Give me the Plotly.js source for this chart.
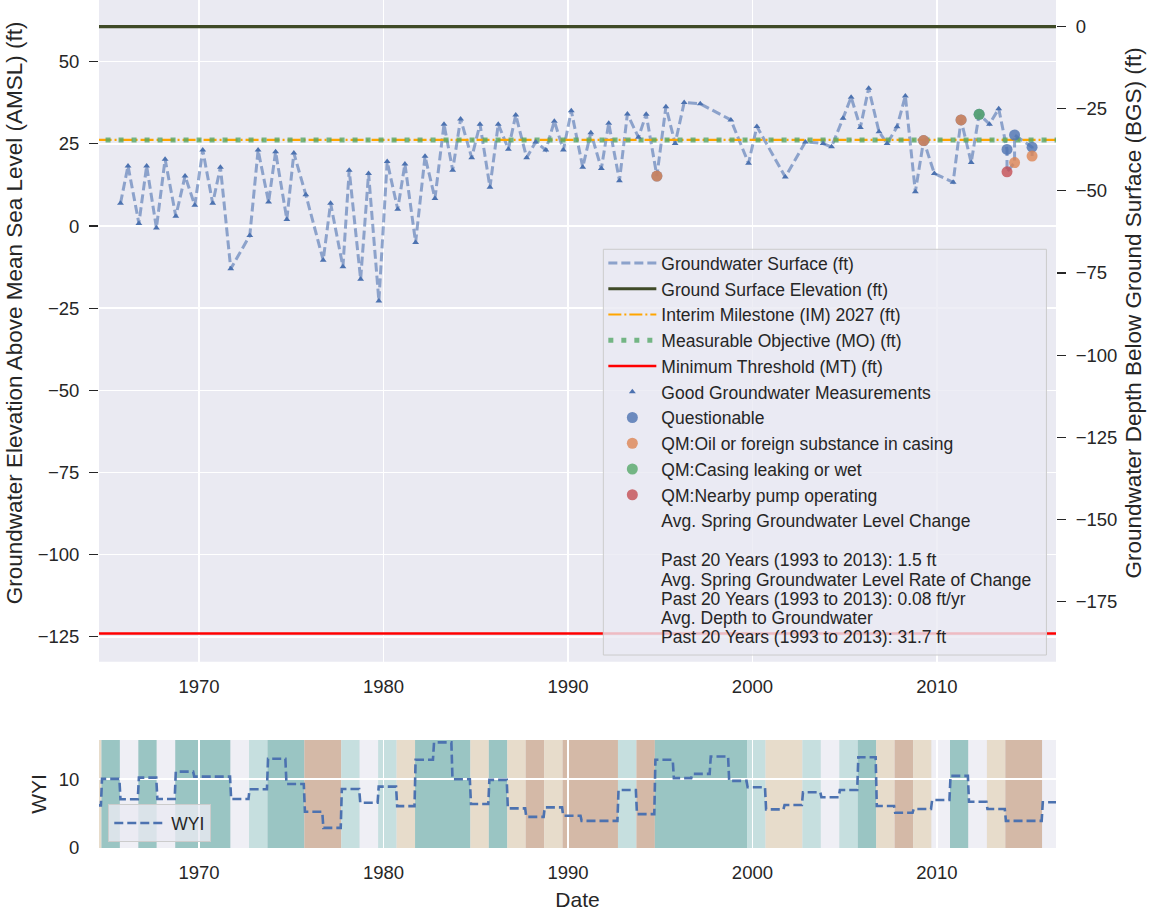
<!DOCTYPE html>
<html>
<head>
<meta charset="utf-8">
<script src="https://cdn.plot.ly/plotly-3.0.1.min.js"></script>
<style>
html,body{margin:0;padding:0;overflow:hidden;background:#fff;}
#chart{position:absolute;left:0;top:-36px;width:1159px;height:947px;}
</style>
</head>
<body>
<div id="chart"></div>
<script>
// ---------------- DATA ----------------
// Groundwater measurements (decimal year, elevation ft AMSL, quality flag)
// G = good, Q = questionable, QO = questionable + oil in casing, QG = questionable + casing leaking,
// O = oil in casing, R = nearby pump operating
const gwYear = [1965.74,1966.15,1966.74,1967.16,1967.69,1968.16,1968.74,1969.24,1969.77,1970.20,
  1970.74,1971.16,1971.72,1972.75,1973.20,1973.77,1974.15,1974.76,1975.14,1975.79,
  1976.73,1977.13,1977.80,1978.14,1978.76,1979.19,1979.75,1980.20,1980.77,1981.16,
  1981.74,1982.25,1982.79,1983.28,1983.75,1984.18,1984.78,1985.23,1985.77,1986.22,
  1986.77,1987.17,1987.76,1988.25,1988.80,1989.26,1989.75,1990.18,1990.80,1991.24,
  1991.81,1992.21,1992.79,1993.22,1993.82,1994.24,1994.82,1995.31,1995.81,1996.30,
  1997.17,1998.83,1999.79,2000.24,2001.78,2002.87,2003.83,2004.29,2004.91,2005.35,
  2005.85,2006.30,2006.86,2007.30,2007.84,2008.29,2008.83,2009.28,2009.86,2010.88,
  2011.31,2011.86,2012.29,2012.85,2013.35,2013.80,2013.80,2014.21,2014.21,2015.16,2015.16];
const gwLevel = [6.9,18.3,0.8,18.3,-0.6,20.3,3.0,15.2,6.3,23.1,
  6.9,17.9,-13.0,-2.9,23.1,7.3,22.6,2.0,22.2,9.5,
  -10.4,6.9,-12.4,17.0,-16.2,16.0,-22.8,19.6,5.1,18.9,
  -5.0,21.2,8.4,31.0,17.0,32.6,20.8,31.0,11.8,31.0,
  23.4,33.8,20.8,25.6,23.1,31.9,23.1,35.1,17.9,28.4,
  17.5,31.3,13.8,34.1,27.0,34.0,15.2,36.3,25.1,37.6,
  37.2,32.3,19.1,30.3,14.9,25.6,25.1,24.1,32.8,39.2,
  30.0,41.9,28.7,25.1,30.2,39.6,10.4,26.0,16.0,13.3,
  32.3,19.3,34.0,31.0,35.7,23.3,16.5,19.3,27.7,24.0,21.3];
const gwFlag = ['G','G','G','G','G','G','G','G','G','G',
  'G','G','G','G','G','G','G','G','G','G',
  'G','G','G','G','G','G','G','G','G','G',
  'G','G','G','G','G','G','G','G','G','G',
  'G','G','G','G','G','G','G','G','G','G',
  'G','G','G','G','G','G','QO','G','G','G',
  'G','G','G','G','G','G','G','G','G','G',
  'G','G','G','G','G','G','G','QO','G','G',
  'QO','G','QG','G','G','Q','R','O','Q','Q','O'];

const groundSurfaceElev = 60.7;   // ft AMSL
const interimMilestone = 26.2;    // ft AMSL
const measurableObjective = 26.2; // ft AMSL
const minimumThreshold = -124.0;  // ft AMSL

// Water Year Index per water year
const wyYear = [1964,1965,1966,1967,1968,1969,1970,1971,1972,1973,1974,1975,1976,1977,1978,1979,1980,
  1981,1982,1983,1984,1985,1986,1987,1988,1989,1990,1991,1992,1993,1994,1995,1996,1997,1998,1999,
  2000,2001,2002,2003,2004,2005,2006,2007,2008,2009,2010,2011,2012,2013,2014,2015,2016];
const wyIndex = [6.2,10.04,7.08,10.23,7.12,11.1,10.38,10.38,7.12,8.54,12.97,9.31,5.26,2.92,8.58,6.58,8.92,
  6.08,12.82,15.35,10.0,6.39,9.9,5.76,4.53,5.9,4.68,3.95,3.95,8.44,4.93,12.82,10.15,10.77,13.3,9.75,
  8.83,5.61,6.24,8.1,7.37,8.44,13.2,6.1,5.12,5.66,6.97,10.48,6.72,5.66,3.95,3.95,6.64];
const wyType = ['D','W','BN','W','BN','W','W','W','BN','AN','W','W','C','C','AN','BN','AN',
  'D','W','W','W','D','W','D','C','D','C','C','C','AN','C','W','W','W','W','W',
  'AN','D','D','AN','BN','AN','W','D','C','D','BN','W','BN','D','C','C','BN'];

const legendTextLines = [
  'Past 20 Years (1993 to 2013): 1.5 ft',
  'Avg. Spring Groundwater Level Rate of Change',
  'Past 20 Years (1993 to 2013): 0.08 ft/yr',
  'Avg. Depth to Groundwater',
  'Past 20 Years (1993 to 2013): 31.7 ft'
];

const leftTicks = [-125,-100,-75,-50,-25,0,25,50];
const rightTicks = [-175,-150,-125,-100,-75,-50,-25,0];

// ---------------- HELPERS ----------------
function decToDate(d){
  const y = Math.floor(d);
  const s = Date.UTC(y,0,1), e = Date.UTC(y+1,0,1);
  return new Date(s + (d - y)*(e - s)).toISOString().slice(0,19).replace('T',' ');
}
const WY_START_OFFSET = 0.71; // water-year band boundary (fraction of calendar year)
const typeColor = {W:'rgb(154,197,195)', AN:'rgb(198,223,223)', BN:'rgb(239,239,245)', D:'rgb(231,220,203)', C:'rgb(212,185,167)'};

const gwX = gwYear.map(decToDate);
function pick(flags){
  const xs=[], ys=[];
  gwFlag.forEach((f,i)=>{ if(flags.includes(f)){ xs.push(gwX[i]); ys.push(gwLevel[i]); } });
  return {x:xs, y:ys};
}
const good = pick(['G']);
const quest = pick(['Q','QO','QG']);
const oil = pick(['QO','O']);
const casing = pick(['QG']);
const pump = pick(['R']);

const lineX = ['1960-01-01','2020-01-01'];
const FONT = 'Liberation Sans, Arial, sans-serif';
const TXT = '#262626';

// WYI step line
const wyiX = [], wyiY = [];
wyYear.forEach((n,i)=>{
  const s = n - 1 + WY_START_OFFSET, e = n + WY_START_OFFSET;
  wyiX.push(decToDate(s + 0.03)); wyiY.push(wyIndex[i]);
  wyiX.push(decToDate(e - 0.03)); wyiY.push(wyIndex[i]);
});

const traces = [
  {x: gwX, y: gwLevel, mode:'lines', name:'Groundwater Surface (ft)', xaxis:'x', yaxis:'y',
   line:{color:'rgba(76,114,176,0.6)', width:3, dash:'9px,4px'}},
  {x: lineX, y:[groundSurfaceElev, groundSurfaceElev], mode:'lines', name:'Ground Surface Elevation (ft)',
   line:{color:'#3f4a27', width:3.2}},
  {x: lineX, y:[interimMilestone, interimMilestone], mode:'lines', name:'Interim Milestone (IM) 2027 (ft)',
   line:{color:'#FFA500', width:2.2, dash:'13px,3px,2px,3px'}},
  {x: lineX, y:[measurableObjective, measurableObjective], mode:'lines', name:'Measurable Objective (MO) (ft)',
   line:{color:'rgba(85,168,104,0.8)', width:5, dash:'5px,8px'}},
  {x: lineX, y:[minimumThreshold, minimumThreshold], mode:'lines', name:'Minimum Threshold (MT) (ft)',
   line:{color:'#FF0000', width:2.5}},
  {x: good.x, y: good.y, mode:'markers', name:'Good Groundwater Measurements',
   marker:{symbol:'triangle-up', size:6, color:'#4C72B0'}},
  {x: quest.x, y: quest.y, mode:'markers', name:'Questionable',
   marker:{size:11, color:'#4C72B0', opacity:0.8}},
  {x: oil.x, y: oil.y, mode:'markers', name:'QM:Oil or foreign substance in casing',
   marker:{size:11, color:'#DD8452', opacity:0.8}},
  {x: casing.x, y: casing.y, mode:'markers', name:'QM:Casing leaking or wet',
   marker:{size:11, color:'#55A868', opacity:0.8}},
  {x: pump.x, y: pump.y, mode:'markers', name:'QM:Nearby pump operating',
   marker:{size:11, color:'#C44E52', opacity:0.8}},
  {x:[null], y:[null], mode:'markers', name:'Avg. Spring Groundwater Level Change',
   marker:{size:1, color:'rgba(0,0,0,0)'}},
  // depth axis (right) carries the ground surface at depth 0
  {x: lineX, y:[0, 0], mode:'lines', xaxis:'x', yaxis:'y2', showlegend:false, hoverinfo:'skip',
   line:{color:'rgba(0,0,0,0)', width:0}},
  {x: wyiX, y: wyiY, mode:'lines', name:'WYI', xaxis:'x2', yaxis:'y3', legend:'legend2',
   line:{color:'#4C72B0', width:2.6, dash:'9px,4px'}}
];

// WY type bands (consecutive years of the same type merged into one band)
const shapes = [];
wyYear.forEach((n,i)=>{
  const x0 = n - 1 + WY_START_OFFSET, x1 = n + WY_START_OFFSET;
  const last = shapes[shapes.length-1];
  if(last && last._type === wyType[i]){ last._x1 = x1; }
  else shapes.push({_type: wyType[i], _x0: x0, _x1: x1});
});
shapes.forEach(s=>{
  s.type='rect'; s.xref='x2'; s.yref='y3 domain'; s.layer='below';
  s.x0 = decToDate(s._x0); s.x1 = decToDate(s._x1); s.y0 = 0; s.y1 = 1;
  s.fillcolor = typeColor[s._type]; s.line = {width:0};
  delete s._type; delete s._x0; delete s._x1;
});
// legend frame (matplotlib-style)
shapes.push({type:'rect', xref:'paper', yref:'paper', layer:'above',
  x0:0.527, x1:0.990, y0:0.2183, y1:0.6773,
  fillcolor:'rgba(234,234,242,0.8)', line:{color:'#cccccc', width:1}});

const annY = [0.3258,0.3032,0.2813,0.2598,0.2383];
const annotations = legendTextLines.map((t,i)=>({
  xref:'paper', yref:'paper', x:0.5849, y:annY[i], xanchor:'left', yanchor:'middle',
  text:t, showarrow:false, font:{family:FONT, size:17.5, color:TXT}
}));

const xRange = ['1964-07-30','2016-06-16'];
const xCommon = {type:'date', range:xRange, tick0:'1970-01-01', dtick:'M120', tickformat:'%Y',
  showgrid:true, gridcolor:'#ffffff', gridwidth:1.5, zeroline:false, showline:false,
  ticks:'outside', ticklen:8, tickcolor:'rgba(0,0,0,0)',
  tickfont:{family:FONT, size:18.5, color:TXT}};

const layout = {
  width:1159, height:947,
  margin:{l:99, r:103, t:0, b:63},
  paper_bgcolor:'#ffffff', plot_bgcolor:'#EAEAF2',
  font:{family:FONT, color:TXT},
  showlegend:true,
  xaxis: Object.assign({}, xCommon, {anchor:'y'}),
  yaxis: {domain:[0.2107,1], range:[-132.6,79.74], tickmode:'array', tickvals:leftTicks,
    showgrid:true, gridcolor:'#ffffff', gridwidth:1.5, zeroline:false, showline:false,
    ticks:'outside', ticklen:9, tickwidth:1.2, tickcolor:TXT, ticklabelstandoff:6,
    tickfont:{family:FONT, size:18.5, color:TXT},
    title:{text:'Groundwater Elevation Above Mean Sea Level (AMSL) (ft)', font:{family:FONT, size:22.5, color:TXT}, standoff:8}},
  yaxis2: {overlaying:'y', side:'right', anchor:'x', range:[-193.3,19.04], tickmode:'array', tickvals:rightTicks,
    showgrid:false, zeroline:false, showline:false,
    ticks:'outside', ticklen:9, tickwidth:1.2, tickcolor:TXT, ticklabelstandoff:6,
    tickfont:{family:FONT, size:18.5, color:TXT},
    title:{text:'Groundwater Depth Below Ground Surface (BGS) (ft)', font:{family:FONT, size:22.5, color:TXT}, standoff:8}},
  xaxis2: Object.assign({}, xCommon, {anchor:'y3',
    title:{text:'Date', font:{family:FONT, size:21, color:TXT}, standoff:10}}),
  yaxis3: {domain:[0,0.1222], anchor:'x2', range:[0,15.7], tickmode:'array', tickvals:[0,10],
    showgrid:true, gridcolor:'#ffffff', gridwidth:1.5, zeroline:false, showline:false,
    ticks:'outside', ticklen:9, tickcolor:'rgba(0,0,0,0)', ticklabelstandoff:6,
    tickfont:{family:FONT, size:18.5, color:TXT},
    title:{text:'WYI', font:{family:FONT, size:21, color:TXT}, standoff:6}},
  legend:{x:0.527, y:0.682, xanchor:'left', yanchor:'top', bgcolor:'rgba(0,0,0,0)', borderwidth:0,
    itemwidth:48, font:{family:FONT, size:17.5, color:TXT}, tracegroupgap:0},
  legend2:{x:0.0097, y:0.0496, xanchor:'left', yanchor:'top', bgcolor:'rgba(234,234,242,0.8)',
    bordercolor:'#cccccc', borderwidth:1, itemwidth:52, font:{family:FONT, size:17.5, color:TXT}},
  shapes: shapes,
  annotations: annotations
};

Plotly.newPlot('chart', traces, layout, {displayModeBar:false, staticPlot:true});
</script>
</body>
</html>
